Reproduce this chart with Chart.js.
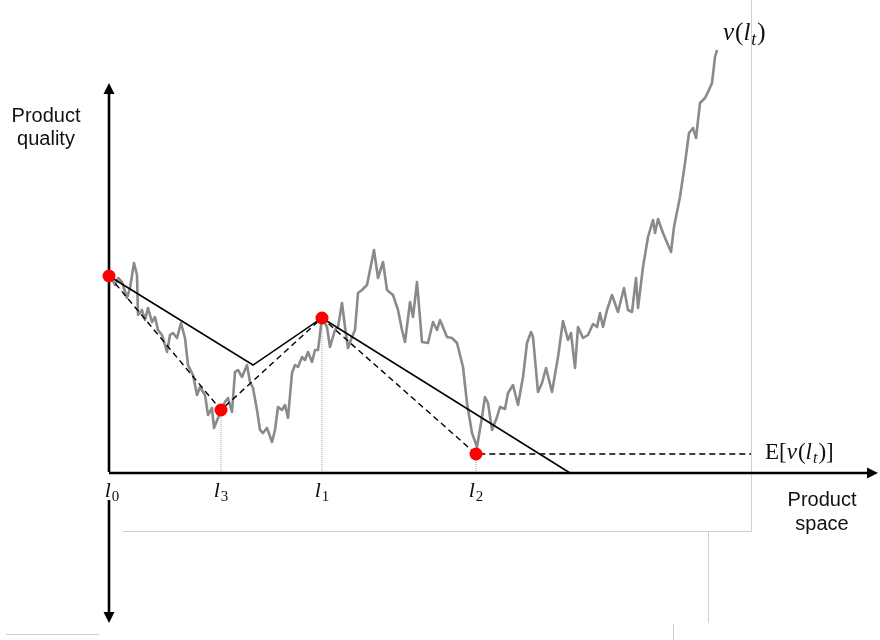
<!DOCTYPE html>
<html>
<head>
<meta charset="utf-8">
<title>Product quality vs product space</title>
<script src="https://cdn.jsdelivr.net/npm/chart.js@4.4.1/dist/chart.umd.min.js"></script>
<style>
  html, body { margin: 0; padding: 0; background: #fff; }
  #wrap { position: relative; width: 880px; height: 640px; }
  #wrap canvas { position: relative; z-index: 1; }
  .edge { position: absolute; background: #cfcfcf; z-index: 0; }
</style>
</head>
<body>
<div id="wrap">
  <!-- faint frame edges left over in the original picture -->
  <div class="edge" style="left:751px; top:0; width:1px; height:532px;"></div>
  <div class="edge" style="left:123px; top:531px; width:629px; height:1px;"></div>
  <div class="edge" style="left:708px; top:532px; width:1px; height:91px;"></div>
  <div class="edge" style="left:673px; top:624px; width:1px; height:16px;"></div>
  <div class="edge" style="left:6px; top:634px; width:93px; height:1px;"></div>
  <canvas id="chart" width="880" height="640"></canvas>
</div>
<script>
// random walk v(l_t) (x = product space, y = quality)
const walkX = [1, 6, 9, 13, 18, 21, 25, 28, 29, 33, 36, 39, 43, 46, 49, 53, 56, 58, 61, 64,
  68, 72, 76, 79, 84, 88, 91, 96, 99, 103, 105, 109, 112, 116, 119, 123, 126, 129, 133, 138,
  141, 144, 148, 151, 154, 158, 163, 166, 169, 173, 176, 179, 183, 186, 189, 193, 196, 199, 203, 206,
  209, 213, 218, 221, 226, 229, 233, 236, 239, 243, 246, 249, 253, 258, 261, 265, 269, 274, 278, 284,
  289, 293, 296, 301, 304, 308, 313, 319, 324, 328, 331, 338, 343, 348, 354, 358, 363, 368, 373, 376,
  379, 383, 388, 391, 396, 399, 404, 409, 414, 418, 422, 424, 429, 433, 437, 443, 449, 454, 459, 462,
  466, 469, 474, 479, 484, 488, 491, 494, 498, 503, 509, 515, 519, 523, 527, 529, 534, 539, 544, 546,
  549, 554, 562, 565, 571, 576, 580, 584, 587, 591, 596, 599, 603, 606, 608];
const walkY = [198, 188, 195, 191, 175, 185, 210, 198, 158, 163, 153, 165, 151, 156, 143, 138, 128, 121, 138, 140,
  135, 150, 135, 108, 98, 78, 86, 78, 58, 65, 45, 55, 63, 71, 75, 61, 101, 103, 96, 108,
  91, 85, 63, 43, 40, 45, 31, 43, 66, 63, 68, 55, 100, 108, 106, 116, 113, 121, 111, 123,
  123, 155, 146, 126, 143, 146, 170, 146, 125, 136, 143, 180, 183, 188, 203, 223, 195, 211, 183, 178,
  163, 143, 131, 171, 156, 191, 131, 130, 151, 143, 153, 136, 135, 130, 106, 70, 40, 26, 56, 76,
  70, 43, 56, 66, 64, 80, 88, 68, 96, 130, 141, 136, 81, 90, 105, 81, 116, 152, 133, 140,
  105, 146, 135, 138, 149, 146, 160, 146, 163, 178, 161, 185, 163, 161, 195, 165, 206, 236, 253, 240,
  254, 240, 221, 246, 276, 310, 340, 345, 335, 370, 375, 381, 390, 416, 423];

// sampled locations l_0, l_3, l_1, l_2 and their observed quality
const pointNames = ['0', '3', '1', '2'];
const pointX = [0, 112, 213, 367];
const pointY = [197, 63, 155, 19];

// solid path (upper bound) and dashed path (through the samples)
const solidX = [0, 144, 213, 461];
const solidY = [197, 108, 155, 0];
const dashedX = [0, 112, 213, 367, 642];
const dashedY = [197, 63, 155, 19, 19];

// axes extents
const xAxisEnd = 769;
const yAxisTop = 390;
const yAxisBottom = -150;
const yAxisGapEnd = -27;

const xy = (xs, ys) => xs.map((x, i) => ({ x: x, y: ys[i] }));

const dropLines = pointX.slice(1).map((x, i) => ({
  data: [{ x: x, y: pointY[i + 1] }, { x: x, y: 0 }],
  showLine: true,
  borderColor: '#a0a0a0',
  borderWidth: 1,
  borderDash: [1, 1],
  pointRadius: 0,
  order: 3
}));

function drawMath(ctx, parts, x, y, size, align) {
  const big = size + 'px "Liberation Serif"';
  const small = Math.round(size * 0.7) + 'px "Liberation Serif"';
  const fontFor = p => (p.it ? 'italic ' : '') + (p.sub ? small : big);
  let width = 0;
  parts.forEach(p => { ctx.font = fontFor(p); width += ctx.measureText(p.t).width + (p.gap || 0); });
  let cx = align === 'center' ? x - width / 2 : x;
  ctx.textAlign = 'left';
  ctx.textBaseline = 'alphabetic';
  parts.forEach(p => {
    ctx.font = fontFor(p);
    ctx.fillText(p.t, cx, p.sub ? y + size * 0.18 : y);
    cx += ctx.measureText(p.t).width + (p.gap || 0);
  });
}

const decorations = {
  id: 'decorations',
  afterDatasetsDraw(chart) {
    const ctx = chart.ctx;
    const sx = chart.scales.x, sy = chart.scales.y;
    const px = v => sx.getPixelForValue(v);
    const py = v => sy.getPixelForValue(v);
    ctx.save();
    ctx.fillStyle = '#000';

    // arrow heads
    const head = (tx, ty, dx, dy) => {
      const len = 11, half = 5.5;
      ctx.beginPath();
      ctx.moveTo(tx, ty);
      ctx.lineTo(tx - dx * len - dy * half, ty - dy * len + dx * half);
      ctx.lineTo(tx - dx * len + dy * half, ty - dy * len - dx * half);
      ctx.closePath();
      ctx.fill();
    };
    head(px(0), py(yAxisTop), 0, -1);
    head(px(0), py(yAxisBottom), 0, 1);
    head(px(xAxisEnd), py(0), 1, 0);

    // axis titles
    ctx.font = '20px "Liberation Sans", Arial, sans-serif';
    ctx.textAlign = 'center';
    ctx.textBaseline = 'alphabetic';
    ctx.fillStyle = '#111';
    ctx.fillText('Product', px(-63), py(351));
    ctx.fillText('quality', px(-63), py(328));
    ctx.fillText('Product', px(713), py(-33));
    ctx.fillText('space', px(713), py(-57));

    // sample labels under the axis
    pointX.forEach((x, i) => {
      drawMath(ctx, [{ t: 'l', it: true, gap: 1 }, { t: pointNames[i], sub: true }],
        px(x) + (i === 0 ? 3 : 0), py(-24), 22, 'center');
    });

    drawMath(ctx, [{ t: 'v', it: true, gap: 1 }, { t: '(' }, { t: 'l', it: true, gap: 1 },
      { t: 't', it: true, sub: true, gap: 1 }, { t: ')' }], px(614), py(433), 25, 'left');
    drawMath(ctx, [{ t: 'E[' }, { t: 'v', it: true, gap: 1 }, { t: '(' }, { t: 'l', it: true, gap: 1 },
      { t: 't', it: true, sub: true, gap: 1 }, { t: ')]' }], px(656), py(14), 23, 'left');
    ctx.restore();
  }
};

new Chart(document.getElementById('chart'), {
  type: 'scatter',
  data: {
    datasets: [
      {
        data: xy(pointX, pointY),
        pointRadius: 6.5,
        pointBackgroundColor: '#ff0000',
        pointBorderWidth: 0,
        order: 0
      },
      {
        data: xy(solidX, solidY),
        showLine: true,
        borderColor: '#000',
        borderWidth: 1.5,
        pointRadius: 0,
        order: 1
      },
      {
        data: xy(dashedX, dashedY),
        showLine: true,
        borderColor: '#000',
        borderWidth: 1.4,
        borderDash: [6, 4],
        pointRadius: 0,
        order: 1
      },
      {
        data: [{ x: 0, y: 0 }, { x: xAxisEnd - 8, y: 0 }],
        showLine: true,
        borderColor: '#000',
        borderWidth: 2.6,
        pointRadius: 0,
        order: 1
      },
      {
        data: [{ x: 0, y: 1 }, { x: 0, y: yAxisTop - 8 }],
        showLine: true,
        borderColor: '#000',
        borderWidth: 2.6,
        pointRadius: 0,
        order: 1
      },
      {
        data: [{ x: 0, y: yAxisGapEnd }, { x: 0, y: yAxisBottom + 8 }],
        showLine: true,
        borderColor: '#000',
        borderWidth: 2.6,
        pointRadius: 0,
        order: 1
      },
      ...dropLines,
      {
        data: xy(walkX, walkY),
        showLine: true,
        borderColor: '#8a8a8a',
        borderWidth: 2.6,
        borderJoinStyle: 'round',
        pointRadius: 0,
        order: 4
      }
    ]
  },
  options: {
    responsive: false,
    animation: false,
    events: [],
    devicePixelRatio: 1,
    layout: { padding: 0, autoPadding: false },
    plugins: { legend: { display: false }, tooltip: { enabled: false } },
    scales: {
      x: { type: 'linear', min: -109, max: 771, display: false },
      y: { type: 'linear', min: -167, max: 473, display: false }
    }
  },
  plugins: [decorations]
});
</script>
</body>
</html>
